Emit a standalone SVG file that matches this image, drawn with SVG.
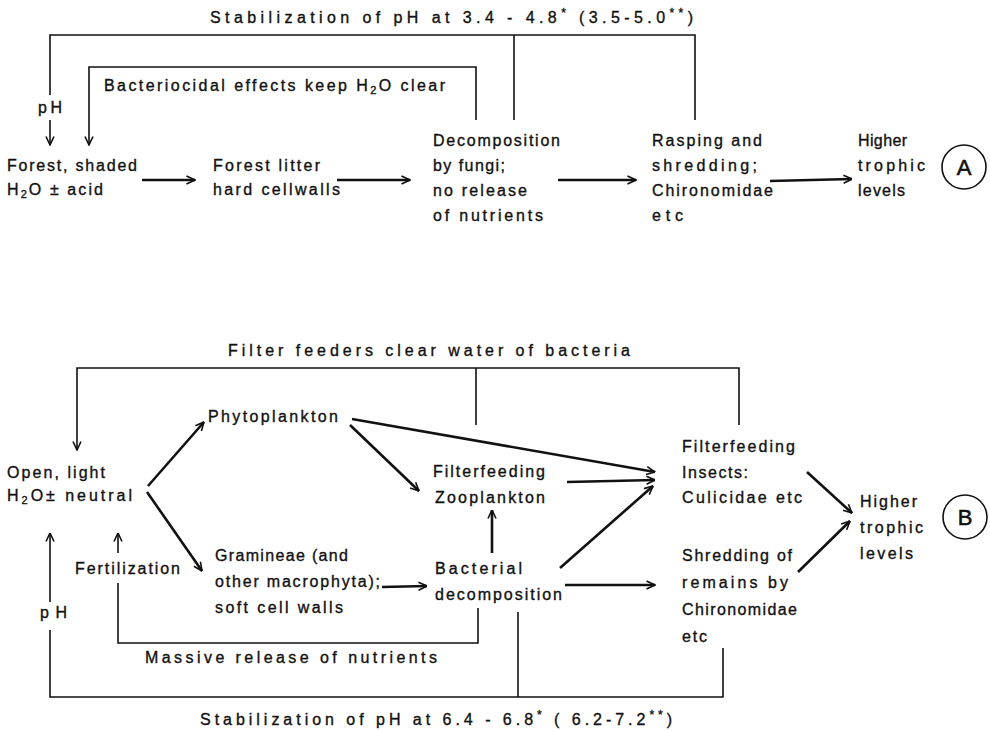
<svg xmlns="http://www.w3.org/2000/svg" width="990" height="731" viewBox="0 0 990 731">
<style>
text{font-family:"Liberation Sans","DejaVu Sans",sans-serif;font-size:16px;fill:#111;stroke:#111;stroke-width:0.35}
.thin{fill:none;stroke:#111;stroke-width:1.6}
.thick{fill:none;stroke:#111;stroke-width:2.6}
.arr{marker-end:url(#ah)}
.sub{font-size:11px}
.sup{font-size:12px}
.circ{fill:none;stroke:#111;stroke-width:1.6}
.big{font-size:22px;text-anchor:middle;stroke-width:0.6}
</style>
<defs>
<marker id="ah" viewBox="0 0 10 10" refX="9.5" refY="5" markerWidth="10" markerHeight="10" markerUnits="userSpaceOnUse" orient="auto">
<path d="M1,1 L9.5,5 L1,9" fill="none" stroke="#111" stroke-width="1.6"/>
</marker>
</defs>
<rect width="990" height="731" fill="#fff"/>

<g id="connectors">
<!-- Part A -->
<polyline class="thin" points="50,95 50,35 695,35 695,120"/>
<line class="thin" x1="514" y1="35" x2="514" y2="120"/>
<line class="thin arr" x1="50" y1="120" x2="50" y2="145"/>
<polyline class="thin arr" points="476,120 476,67 89,67 89,145"/>
<line class="thick arr" x1="142" y1="180" x2="195" y2="180"/>
<line class="thick arr" x1="337" y1="180" x2="410" y2="180"/>
<line class="thick arr" x1="558" y1="180" x2="636" y2="180"/>
<line class="thick arr" x1="770" y1="181" x2="852" y2="179"/>
<!-- Part B -->
<polyline class="thin arr" points="739,425 739,368 77,368 77,450"/>
<line class="thin" x1="476" y1="368" x2="476" y2="425"/>
<line class="thick arr" x1="148" y1="486" x2="204" y2="422"/>
<line class="thick arr" x1="147" y1="492" x2="202" y2="571"/>
<line class="thick arr" x1="350" y1="425" x2="419" y2="491"/>
<line class="thick arr" x1="352" y1="419" x2="655" y2="472"/>
<line class="thick arr" x1="567" y1="482" x2="655" y2="480"/>
<line class="thick arr" x1="560" y1="568" x2="653" y2="486"/>
<line class="thick arr" x1="492" y1="553" x2="492" y2="510"/>
<line class="thick arr" x1="382" y1="587" x2="427" y2="586"/>
<line class="thick arr" x1="565" y1="585" x2="655" y2="585"/>
<line class="thick arr" x1="807" y1="472" x2="852" y2="513"/>
<line class="thick arr" x1="798" y1="572" x2="850" y2="521"/>
<polyline class="thin" points="723,648 723,697 50,697 50,630"/>
<line class="thin arr" x1="50" y1="602" x2="50" y2="533"/>
<line class="thin" x1="518" y1="612" x2="518" y2="697"/>
<polyline class="thin" points="478,608 478,643 118,643 118,583"/>
<line class="thin arr" x1="118" y1="553" x2="118" y2="533"/>
</g>

<g id="labels-A">
<text x="210" y="23" textLength="483" lengthAdjust="spacing">Stabilization of pH at 3.4 - 4.8<tspan class="sup" dy="-6">*</tspan><tspan dy="6">  (3.5-5.0</tspan><tspan class="sup" dy="-6">**</tspan><tspan dy="6">)</tspan></text>
<text x="38" y="113" textLength="24" lengthAdjust="spacing">pH</text>
<text x="104" y="91" textLength="341" lengthAdjust="spacing">Bacteriocidal effects keep H<tspan class="sub" dy="3">2</tspan><tspan dy="-3">O clear</tspan></text>
</g>
<g id="node-A-forest">
<text x="7" y="171" textLength="130" lengthAdjust="spacing">Forest, shaded</text>
<text x="7" y="195" textLength="96" lengthAdjust="spacing">H<tspan class="sub" dy="3">2</tspan><tspan dy="-3">O ± acid</tspan></text>
</g>
<g id="node-A-litter">
<text x="213" y="171" textLength="107" lengthAdjust="spacing">Forest litter</text>
<text x="213" y="195" textLength="127" lengthAdjust="spacing">hard cellwalls</text>
</g>
<g id="node-A-decomp">
<text x="433" y="146" textLength="127" lengthAdjust="spacing">Decomposition</text>
<text x="433" y="171" textLength="72" lengthAdjust="spacing">by fungi;</text>
<text x="433" y="196" textLength="94" lengthAdjust="spacing">no release</text>
<text x="433" y="221" textLength="110" lengthAdjust="spacing">of nutrients</text>
</g>
<g id="node-A-rasping">
<text x="652" y="146" textLength="110" lengthAdjust="spacing">Rasping and</text>
<text x="652" y="171" textLength="105" lengthAdjust="spacing">shredding;</text>
<text x="652" y="196" textLength="121" lengthAdjust="spacing">Chironomidae</text>
<text x="652" y="221" textLength="31" lengthAdjust="spacing">etc</text>
</g>
<g id="node-A-higher">
<text x="858" y="146" textLength="49" lengthAdjust="spacing">Higher</text>
<text x="858" y="171" textLength="67" lengthAdjust="spacing">trophic</text>
<text x="858" y="196" textLength="47" lengthAdjust="spacing">levels</text>
</g>
<g id="node-A-label">
<circle class="circ" cx="964" cy="167" r="22"/>
<text class="big" x="964" y="175">A</text>
</g>

<g id="labels-B">
<text x="228" y="356" textLength="402" lengthAdjust="spacing">Filter feeders clear water of bacteria</text>
<text x="145" y="663" textLength="292" lengthAdjust="spacing">Massive release of nutrients</text>
<text x="40" y="618" textLength="27" lengthAdjust="spacing">pH</text>
<text x="75" y="574" textLength="105" lengthAdjust="spacing">Fertilization</text>
<text x="200" y="725" textLength="472" lengthAdjust="spacing">Stabilization of pH at  6.4 - 6.8<tspan class="sup" dy="-6">*</tspan><tspan dy="6">  ( 6.2-7.2</tspan><tspan class="sup" dy="-6">**</tspan><tspan dy="6">)</tspan></text>
</g>
<g id="node-B-open">
<text x="7" y="478" textLength="98" lengthAdjust="spacing">Open, light</text>
<text x="7" y="501" textLength="125" lengthAdjust="spacing">H<tspan class="sub" dy="3">2</tspan><tspan dy="-3">O± neutral</tspan></text>
</g>
<g id="node-B-phyto">
<text x="208" y="422" textLength="130" lengthAdjust="spacing">Phytoplankton</text>
</g>
<g id="node-B-zoo">
<text x="433" y="477" textLength="112" lengthAdjust="spacing">Filterfeeding</text>
<text x="435" y="503" textLength="110" lengthAdjust="spacing">Zooplankton</text>
</g>
<g id="node-B-gramineae">
<text x="215" y="561" textLength="133" lengthAdjust="spacing">Gramineae (and</text>
<text x="215" y="587" textLength="165" lengthAdjust="spacing">other macrophyta);</text>
<text x="215" y="613" textLength="128" lengthAdjust="spacing">soft cell walls</text>
</g>
<g id="node-B-bacterial">
<text x="435" y="574" textLength="87" lengthAdjust="spacing">Bacterial</text>
<text x="435" y="600" textLength="127" lengthAdjust="spacing">decomposition</text>
</g>
<g id="node-B-insects">
<text x="682" y="452" textLength="113" lengthAdjust="spacing">Filterfeeding</text>
<text x="682" y="478" textLength="66" lengthAdjust="spacing">Insects:</text>
<text x="682" y="503" textLength="120" lengthAdjust="spacing">Culicidae etc</text>
</g>
<g id="node-B-shredding">
<text x="682" y="561" textLength="110" lengthAdjust="spacing">Shredding of</text>
<text x="682" y="588" textLength="106" lengthAdjust="spacing">remains by</text>
<text x="682" y="615" textLength="115" lengthAdjust="spacing">Chironomidae</text>
<text x="682" y="642" textLength="25" lengthAdjust="spacing">etc</text>
</g>
<g id="node-B-higher">
<text x="860" y="507" textLength="57" lengthAdjust="spacing">Higher</text>
<text x="860" y="533" textLength="63" lengthAdjust="spacing">trophic</text>
<text x="860" y="559" textLength="53" lengthAdjust="spacing">levels</text>
</g>
<g id="node-B-label">
<circle class="circ" cx="965" cy="517" r="22"/>
<text class="big" x="965" y="525">B</text>
</g>
</svg>
